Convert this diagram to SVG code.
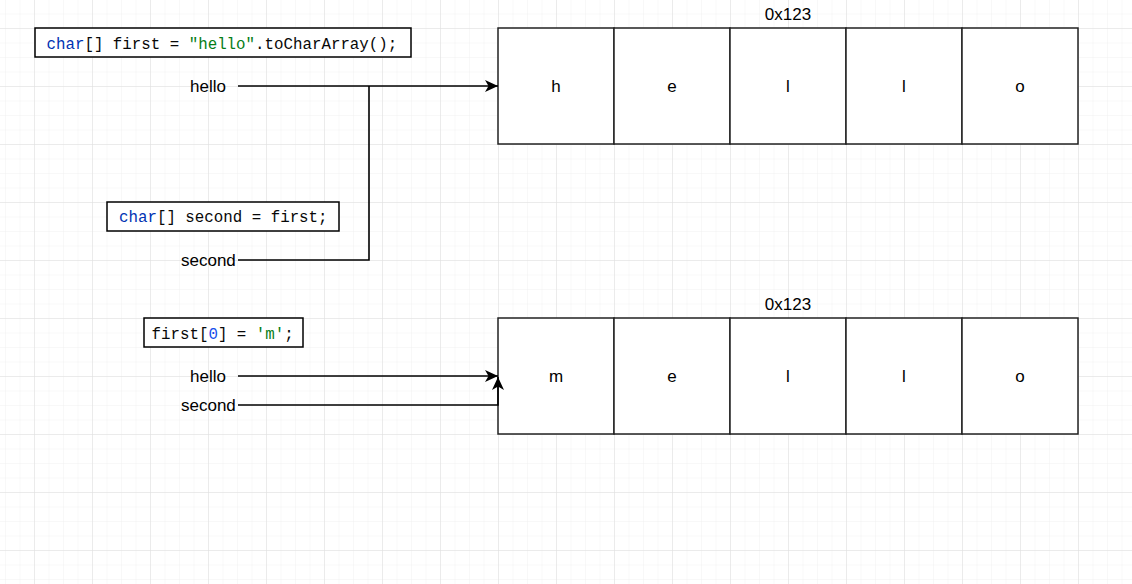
<svg xmlns="http://www.w3.org/2000/svg" width="1132" height="584" viewBox="0 0 1132 584">
<defs>
<pattern id="minor" patternUnits="userSpaceOnUse" x="34" y="28" width="14.5" height="14.5">
<path d="M0,0 H14.5 M0,0 V14.5" stroke="#f1f1f1" stroke-width="1" fill="none"/>
</pattern>
<pattern id="major" patternUnits="userSpaceOnUse" x="34" y="28" width="58" height="58">
<path d="M0,0 H58 M0,0 V58" stroke="#dedede" stroke-width="1" fill="none"/>
</pattern>
<marker id="arr" markerUnits="userSpaceOnUse" markerWidth="14" markerHeight="12" viewBox="0 0 14 12" refX="13" refY="6" orient="auto">
<path d="M0,0 L13,6 L0,12 L3.5,6 Z" fill="#000"/>
</marker>
<style>
.lbl{font-family:"Liberation Sans",Arial,sans-serif;font-size:17px;fill:#000}
.cell{font-family:"Liberation Sans",Arial,sans-serif;font-size:17px;fill:#000;text-anchor:middle}
.code{font-family:"Liberation Mono","DejaVu Sans Mono",monospace;font-size:15.8px;fill:#080808}
.kw{fill:#0033b3}
.str{fill:#067d17}
.num{fill:#1750eb}
.box{fill:#fff;stroke:#222;stroke-width:1.5}
.cbox{fill:#fff;stroke:#000;stroke-width:1.5}
.conn{fill:none;stroke:#000;stroke-width:1.6}
</style>
</defs>
<rect width="1132" height="584" fill="#fff"/>
<rect width="1132" height="584" fill="url(#minor)"/>
<rect width="1132" height="584" fill="url(#major)"/>

<g id="code1">
<rect class="cbox" x="35" y="28" width="376" height="29"/>
<text class="code" x="46.5" y="49"><tspan class="kw">char</tspan>[] first = <tspan class="str">"hello"</tspan>.toCharArray();</text>
</g>
<g id="code2">
<rect class="cbox" x="107" y="202" width="232" height="29"/>
<text class="code" x="119" y="222"><tspan class="kw">char</tspan>[] second = first;</text>
</g>
<g id="code3">
<rect class="cbox" x="144" y="318" width="159" height="29"/>
<text class="code" x="151.5" y="339">first[<tspan class="num">0</tspan>] = <tspan class="str">'m'</tspan>;</text>
</g>

<g id="label-hello1"><text class="lbl" x="190" y="92">hello</text></g>
<g id="label-second1"><text class="lbl" x="181" y="266">second</text></g>
<g id="label-hello2"><text class="lbl" x="190" y="382">hello</text></g>
<g id="label-second2"><text class="lbl" x="181" y="411">second</text></g>

<g id="array1">
<text class="cell" x="788" y="20">0x123</text>
<rect class="box" x="498" y="28" width="116" height="116"/>
<rect class="box" x="614" y="28" width="116" height="116"/>
<rect class="box" x="730" y="28" width="116" height="116"/>
<rect class="box" x="846" y="28" width="116" height="116"/>
<rect class="box" x="962" y="28" width="116" height="116"/>
<text class="cell" x="556" y="92">h</text>
<text class="cell" x="672" y="92">e</text>
<text class="cell" x="788" y="92">l</text>
<text class="cell" x="904" y="92">l</text>
<text class="cell" x="1020" y="92">o</text>
</g>

<g id="array2">
<text class="cell" x="788" y="310">0x123</text>
<rect class="box" x="498" y="318" width="116" height="116"/>
<rect class="box" x="614" y="318" width="116" height="116"/>
<rect class="box" x="730" y="318" width="116" height="116"/>
<rect class="box" x="846" y="318" width="116" height="116"/>
<rect class="box" x="962" y="318" width="116" height="116"/>
<text class="cell" x="556" y="382">m</text>
<text class="cell" x="672" y="382">e</text>
<text class="cell" x="788" y="382">l</text>
<text class="cell" x="904" y="382">l</text>
<text class="cell" x="1020" y="382">o</text>
</g>

<g id="connectors">
<path class="conn" d="M238,86 H498" marker-end="url(#arr)"/>
<path class="conn" d="M238,260 H369 V86"/>
<path class="conn" d="M238,376 H498" marker-end="url(#arr)"/>
<path class="conn" d="M238,405 H498 V377" marker-end="url(#arr)"/>
</g>
</svg>
